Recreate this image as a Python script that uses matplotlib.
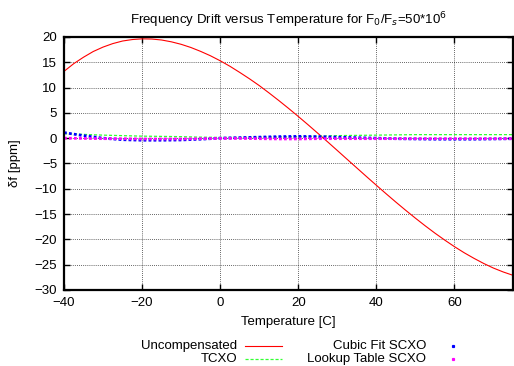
import numpy as np
import matplotlib
matplotlib.use('Agg')
import matplotlib.pyplot as plt
from matplotlib.lines import Line2D

plt.rcParams['font.family'] = ['Liberation Sans', 'DejaVu Sans']
plt.rcParams['font.size'] = 9.5

# uncompensated drift, read every 2.5 C
temp_u = [-40, -37.5, -35, -32.5, -30, -27.5, -25, -22.5, -20, -17.5, -15,
          -12.5, -10, -7.5, -5, -2.5, 0, 2.5, 5, 7.5, 10, 12.5, 15, 17.5,
          20, 22.5, 25, 27.5, 30, 32.5, 35, 37.5, 40, 42.5, 45, 47.5, 50,
          52.5, 55, 57.5, 60, 62.5, 65, 67.5, 70, 72.5, 75]
uncomp = [13.2, 14.73, 16.0, 17.13, 18.0, 18.69, 19.2, 19.49, 19.63, 19.59,
          19.4, 19.04, 18.55, 17.92, 17.15, 16.29, 15.3, 14.21, 13.0, 11.74,
          10.4, 8.95, 7.45, 5.9, 4.3, 2.66, 0.98, -0.71, -2.43, -4.16, -5.88,
          -7.6, -9.3, -10.98, -12.63, -14.24, -15.8, -17.31, -18.76, -20.13,
          -21.43, -22.64, -23.74, -24.76, -25.67, -26.44, -27.1]

temp = [-40, -35, -30, -25, -20, -15, -10, -5, 0, 5, 10, 15, 20, 25,
        30, 35, 40, 45, 50, 55, 60, 65, 70, 75]
tcxo = [0.9, 0.75, 0.6, 0.5, 0.4, 0.35, 0.3, 0.2, 0.15, 0.15, 0.2, 0.25,
        0.3, 0.4, 0.5, 0.55, 0.6, 0.65, 0.7, 0.7, 0.7, 0.7, 0.7, 0.7]
cubic = [1.1, 0.5, 0.0, -0.3, -0.4, -0.4, -0.35, -0.2, 0.0, 0.1, 0.2,
         0.3, 0.35, 0.3, 0.2, 0.1, 0.0, -0.1, -0.15, -0.2, -0.2, -0.2,
         -0.15, -0.1]
lookup = [0.0, -0.05, -0.1, -0.1, -0.15, -0.15, -0.15, -0.1, -0.05, -0.05,
          -0.1, -0.15, -0.15, -0.1, -0.1, -0.1, -0.1, -0.1, -0.1, -0.1,
          -0.1, -0.1, -0.1, -0.1]

xticks = [-40, -20, 0, 20, 40, 60]
yticks = [-30, -25, -20, -15, -10, -5, 0, 5, 10, 15, 20]

fig = plt.figure(figsize=(5.14, 3.66), dpi=100)
ax = fig.add_axes([0.1245, 0.2077, 0.8735, 0.6913])

ax.plot(temp_u, uncomp, color='#ff0000', lw=0.8)
ax.plot(temp, tcxo, color='#33ff33', lw=0.9, dashes=(2.5, 1.5))
ax.plot(temp, cubic, color='#0000ff', lw=2.0, dashes=(1, 0.8))
ax.plot(temp, lookup, color='#ff00ff', lw=2.0, dashes=(1, 0.8))

ax.set_xlim(-40, 75)
ax.set_ylim(-30, 20)
ax.set_xticks(xticks)
ax.set_yticks(yticks)
ax.tick_params(direction='in', top=True, right=True, length=4, width=1,
               pad=5, labelsize=9.5)
ax.grid(True, color='black', linestyle=(0, (1, 1.5)), lw=0.6, alpha=0.8)
for s in ax.spines.values():
    s.set_linewidth(1.6)

ax.set_xlabel('Temperature [C]', labelpad=5)
ax.set_ylabel('\u03b4f [ppm]', labelpad=10)
ax.set_title('Frequency Drift versus Temperature for F$_0$/F$_s$=50*10$^6$',
             fontsize=9.5, pad=9)

# gnuplot-like key below the plot
W, H = 514, 366
def fx(px):
    return px / W
def fy(py):
    return 1 - py / H

key = [('Uncompensated', 237, 346, '#ff0000', 'line'),
       ('TCXO', 237, 359, '#33ff33', 'dash'),
       ('Cubic Fit SCXO', 426, 346, '#0000ff', 'dot'),
       ('Lookup Table SCXO', 426, 359, '#ff00ff', 'dot')]
for label, xr, yc, col, kind in key:
    fig.text(fx(xr), fy(yc), label, ha='right', va='center', fontsize=9.5)
    if kind == 'line':
        fig.add_artist(Line2D([fx(245), fx(282)], [fy(yc), fy(yc)],
                              color=col, lw=0.8))
    elif kind == 'dash':
        fig.add_artist(Line2D([fx(245), fx(282)], [fy(yc), fy(yc)],
                              color=col, lw=0.9, dashes=(2.5, 1.5)))
    else:
        fig.add_artist(Line2D([fx(453)], [fy(yc)], color=col, marker='s',
                              markersize=1.3, lw=0))

fig.savefig('out.png', dpi=100)
